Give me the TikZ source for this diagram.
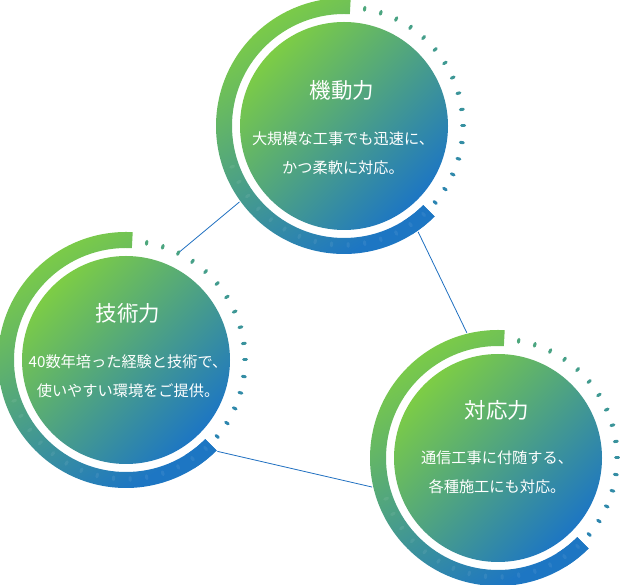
\documentclass[tikz,border=0pt]{standalone}
\usepackage{fontspec}
\newfontfamily\jpfont{Noto Sans CJK JP}
\definecolor{Leaf}{HTML}{7DCD45}
\definecolor{Ocean}{HTML}{1D76C3}
\definecolor{DotTop}{HTML}{4DA77C}
\definecolor{DotEnd}{HTML}{2B84B2}
\definecolor{Link}{HTML}{1F6FC0}

\begin{document}
\begin{tikzpicture}[
    x=1pt,y=1pt,
    halo/.style={circle,minimum size=258pt,inner sep=0pt},
    core/.style={circle,minimum size=208pt,inner sep=0pt,top color=Leaf,bottom color=Ocean,shading angle=45},
    ring/.style={top color=Leaf,bottom color=Ocean,shading angle=32},
    tick/.style={line width=3pt,line cap=round},
    title/.style={text=white,font=\jpfont\fontsize{21.5}{21.5}\selectfont},
    body/.style={text=white,align=center,font=\jpfont\fontsize{15.2}{29.5}\selectfont},
    link/.style={draw=Link,line width=0.8pt}
  ]
    \useasboundingbox (0,0) rectangle (620,585);
    \foreach \name/\cx/\cy in {mobile/344/459,skill/126/225,care/498/127}
      \node[halo] (\name) at (\cx,\cy) {};
    \path (skill.center) ++(64:119) coordinate (skilldot);
    \draw[link] (mobile.216) -- (skilldot);
    \draw[link] (mobile.305) -- (care.104);
    \draw[link] (skill.315) -- (care.193.5);
    \foreach \name in {mobile,skill,care} {
      \shade[ring] (\name.center) ++(87:128) arc[start angle=87,end angle=315,radius=128] -- ++(135:16) arc[start angle=315,end angle=87,radius=112] -- cycle;
      \fill[Ocean] (\name.center) ++(302:128) arc[start angle=302,end angle=315,radius=128] -- ++(135:16) arc[start angle=315,end angle=302,radius=112] -- cycle;
      \foreach \ang in {200,208,...,312}
        \draw[tick,white,opacity=.07] (\name.center) ++(\ang:117.5) -- ++(\ang:3);
      \foreach \k [evaluate=\k as \mix using 100-\k*100/15, evaluate=\k as \ang using 80-8*\k] in {0,...,15}
        \draw[tick,color=DotTop!\mix!DotEnd] (\name.center) ++(\ang:117.5) -- ++(\ang:3);
      \node[core] (\name-core) at (\name.center) {};
    }
    \node[title] (mobile-title) at (342,495) {機動力};
    \node[body] (mobile-text) at (343,432) {大規模な工事でも迅速に、\\かつ柔軟に対応。};
    \node[title] (skill-title) at (128,272) {技術力};
    \node[body] (skill-text) at (128,209) {40数年培った経験と技術で、\\使いやすい環境をご提供。};
    \node[title] (care-title) at (497,175) {対応力};
    \node[body] (care-text) at (497,113) {通信工事に付随する、\\各種施工にも対応。};
  \end{tikzpicture}
\end{document}
